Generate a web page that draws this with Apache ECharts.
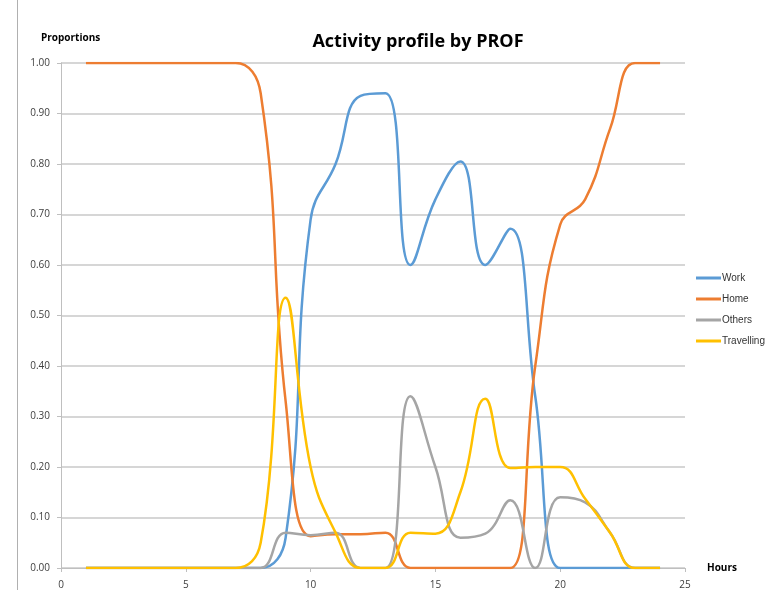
<!DOCTYPE html>
<html lang="en">
<head>
    <meta charset="UTF-8">
    <title>Activity profile by PROF</title>
    <script src="https://cdn.jsdelivr.net/npm/echarts@6/dist/echarts.min.js"></script>
    <style>
        body, html {
            margin: 0;
            padding: 0;
            background: #fff;
        }
        #chart {
            width: 771px;
            height: 590px;
        }
    </style>
</head>
<body>
<div id="chart"></div>
<script>
    // hours of the day
    const hours = [1, 2, 3, 4, 5, 6, 7, 8, 9, 10, 11, 12, 13, 14, 15, 16, 17, 18, 19, 20, 21, 22, 23, 24];

    // proportions per hour
    const work = [0, 0, 0, 0, 0, 0, 0, 0, 0.06, 0.69, 0.80, 0.935, 0.94, 0.60, 0.73, 0.805, 0.60, 0.672, 0.34, 0, 0, 0, 0, 0];
    const home = [1, 1, 1, 1, 1, 1, 1, 0.94, 0.33, 0.063, 0.067, 0.067, 0.07, 0, 0, 0, 0, 0, 0.40, 0.68, 0.73, 0.87, 1, 1];
    const others = [0, 0, 0, 0, 0, 0, 0, 0, 0.07, 0.065, 0.07, 0, 0, 0.34, 0.20, 0.06, 0.068, 0.134, 0, 0.14, 0.13, 0.07, 0, 0];
    const travelling = [0, 0, 0, 0, 0, 0, 0, 0.05, 0.535, 0.20, 0.07, 0, 0, 0.07, 0.068, 0.15, 0.335, 0.198, 0.20, 0.20, 0.137, 0.07, 0, 0];

    const seriesNames = ['Work', 'Home', 'Others', 'Travelling'];
    const seriesColors = ['#5b9bd5', '#ed7d31', '#a5a5a5', '#ffc000'];
    const seriesValues = [work, home, others, travelling];

    const font = '"Open Sans", "Liberation Sans", sans-serif';

    const chart = echarts.init(document.getElementById('chart'), null, {renderer: 'canvas'});

    const option = {
        animation: false,
        textStyle: {fontFamily: font},
        title: {
            text: 'Activity profile by PROF',
            left: 413,
            textAlign: 'center',
            top: 28,
            textStyle: {fontSize: 18, fontWeight: 'bold', color: '#000', fontFamily: font}
        },
        legend: {
            orient: 'vertical',
            left: 691,
            top: 267,
            icon: 'rect',
            itemWidth: 25,
            itemHeight: 3,
            itemGap: 9,
            textStyle: {fontSize: 10, color: '#333', lineHeight: 12, padding: [0, 0, 0, -4],
                fontFamily: '"Liberation Sans", sans-serif'},
            data: seriesNames
        },
        grid: {
            left: 61,
            right: 86,
            top: 63,
            bottom: 21,
            containLabel: false
        },
        xAxis: {
            type: 'value',
            min: 0,
            max: 25,
            interval: 5,
            name: 'Hours',
            nameLocation: 'end',
            nameGap: 22,
            nameTextStyle: {fontSize: 10, fontWeight: 'bold', color: '#000', verticalAlign: 'middle', padding: [0, 0, 4, 0]},
            axisLine: {show: true, lineStyle: {color: '#bfbfbf', width: 1}},
            axisTick: {show: true, length: 4, lineStyle: {color: '#bfbfbf'}},
            axisLabel: {fontSize: 10, color: '#404040', margin: 12},
            splitLine: {show: false}
        },
        yAxis: {
            type: 'value',
            min: 0,
            max: 1,
            interval: 0.1,
            name: 'Proportions',
            nameLocation: 'end',
            nameGap: 20,
            nameTextStyle: {fontSize: 10, fontWeight: 'bold', color: '#000', align: 'left', padding: [0, 0, 0, -20]},
            axisLine: {show: true, lineStyle: {color: '#bfbfbf', width: 1}},
            axisTick: {show: true, length: 4, lineStyle: {color: '#bfbfbf'}},
            axisLabel: {fontSize: 10, color: '#404040', margin: 11, formatter: v => v.toFixed(2)},
            splitLine: {show: true, lineStyle: {color: '#c8c8c8', width: 1.5}}
        },
        graphic: [{
            type: 'line',
            shape: {x1: 17.5, y1: 0, x2: 17.5, y2: 590},
            style: {stroke: '#b0b0b0', lineWidth: 1}
        }],
        series: seriesNames.map((name, i) => ({
            name: name,
            type: 'line',
            smooth: 0.45,
            showSymbol: false,
            color: seriesColors[i],
            lineStyle: {width: 2.5, color: seriesColors[i]},
            data: hours.map((h, j) => [h, seriesValues[i][j]])
        }))
    };

    chart.setOption(option);
</script>
</body>
</html>
